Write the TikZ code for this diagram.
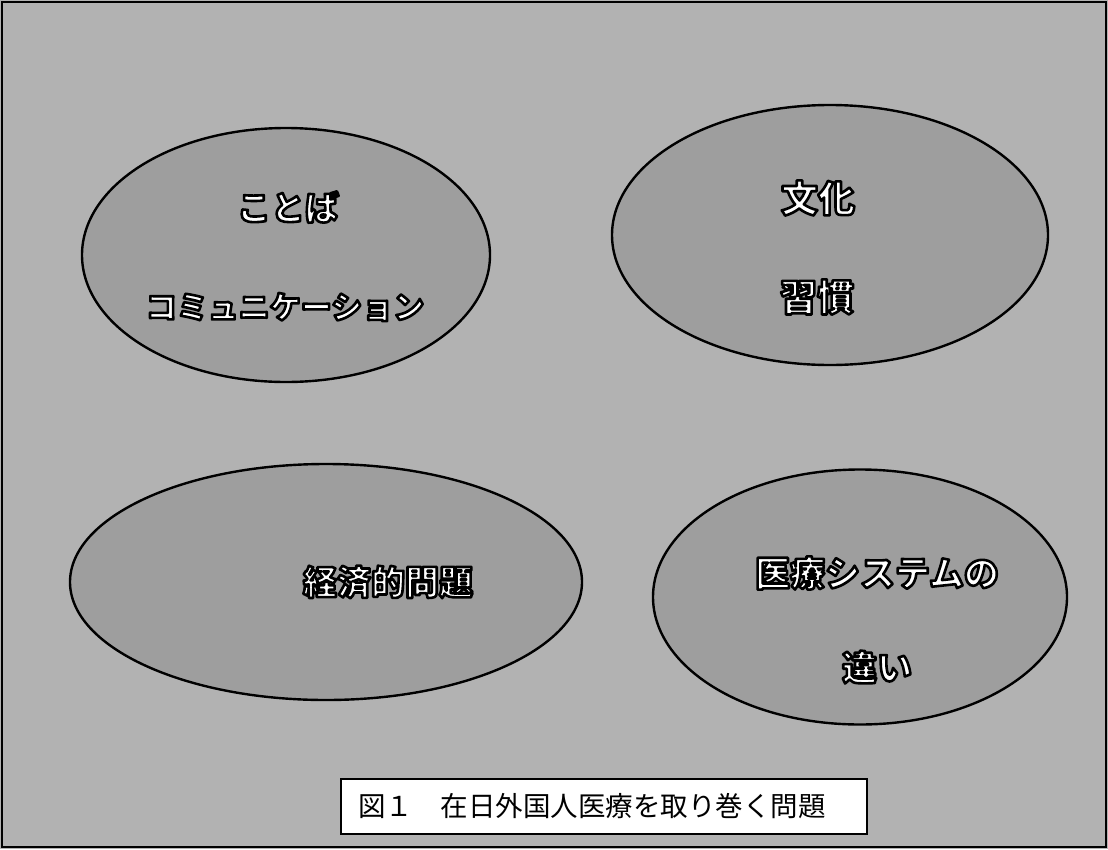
\documentclass[tikz,border=0pt]{standalone}
\usepackage{fontspec}
\newfontfamily\jp{Noto Sans CJK JP}
\usetikzlibrary{shapes.geometric}
\newcommand\outl[1]{\special{pdf:code 2 Tr 2.6 w 1 j 0 G}#1\special{pdf:code 0 Tr 1 w 0 j}}
\begin{document}
\begin{tikzpicture}[x=1pt,y=-1pt,
  bubble/.style={ellipse, draw=black, line width=2.4pt, fill=black!38, inner sep=0pt},
  lbl/.style={font=\jp\bfseries\fontsize{34}{40}\selectfont, text=white, inner sep=0pt},
  capbox/.style={draw=black, line width=1.6pt, fill=white, inner sep=0pt}]
\path[use as bounding box, fill=black!30] (0,0) rectangle (1108,849);
\draw[line width=1.5pt] (2,2) rectangle (1106,847);
% ellipses
\node[bubble, minimum width=408pt, minimum height=254pt] (e1) at (286,255) {};
\node[bubble, minimum width=436pt, minimum height=260pt] (e2) at (830,235) {};
\node[bubble, minimum width=512pt, minimum height=236pt] (e3) at (326,582) {};
\node[bubble, minimum width=414pt, minimum height=255pt] (e4) at (860,597) {};
% labels
\node[lbl] (t1a) at (288,207) {\outl{ことば}};
\node[lbl, font=\jp\bfseries\fontsize{31}{36}\selectfont] (t1b) at (285,307) {\outl{コミュニケーション}};
\node[lbl, font=\jp\bfseries\fontsize{37}{42}\selectfont] (t2a) at (818,198) {\outl{文化}};
\node[lbl, font=\jp\bfseries\fontsize{37}{42}\selectfont] (t2b) at (817,297) {\outl{習慣}};
\node[lbl] (t3) at (388,582) {\outl{経済的問題}};
\node[lbl, font=\jp\bfseries\fontsize{35}{40}\selectfont] (t4a) at (877,573) {\outl{医療システムの}};
\node[lbl, font=\jp\bfseries\fontsize{35}{40}\selectfont] (t4b) at (877,667) {\outl{違い}};
% caption
\node[capbox, minimum width=526pt, minimum height=55pt] (cbox) at (604,806.5) {};
\node[font=\jp\fontsize{27.5}{30}\selectfont, anchor=west, inner sep=0pt] (captext) at (358,806.5) {図１　在日外国人医療を取り巻く問題};
\end{tikzpicture}
\end{document}
